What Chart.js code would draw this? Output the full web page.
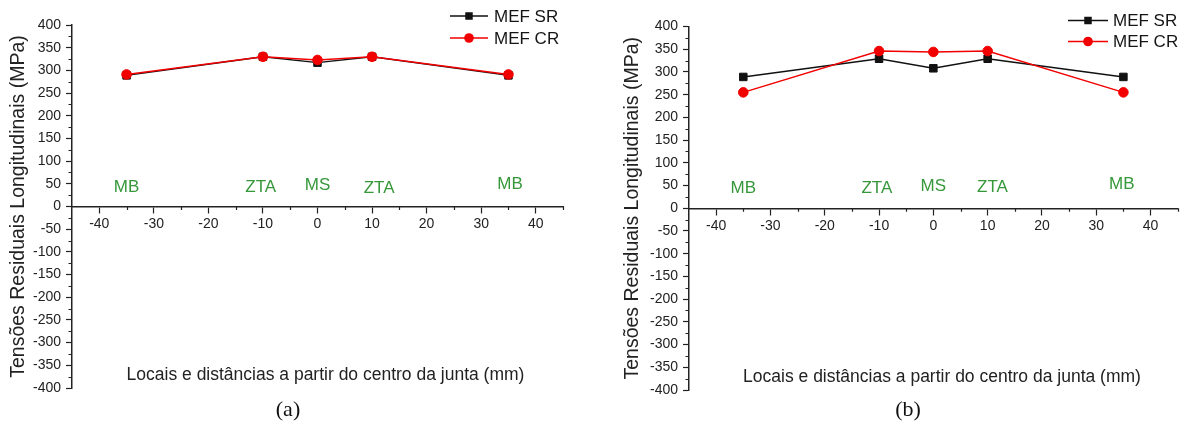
<!DOCTYPE html>
<html>
<head>
<meta charset="utf-8">
<script src="https://cdn.jsdelivr.net/npm/chart.js@4.4.0/dist/chart.umd.min.js"></script>
<style>
  html, body { margin: 0; padding: 0; background: #fff; }
  #wrap { position: relative; width: 1184px; height: 431px; overflow: hidden; background: #fff; }
  #ca { position: absolute; left: 0; top: 0; }
  #cb { position: absolute; left: 616px; top: 0; }
</style>
</head>
<body>
<div id="wrap">
  <canvas id="ca" width="600" height="431"></canvas>
  <canvas id="cb" width="568" height="431"></canvas>
</div>
<script>
// Distance from the joint centre (mm) of each measuring location
const positions = [-35, -10, 0, 10, 35];

// Longitudinal residual stress (MPa), panel (a)
const mefSrA = [289, 330, 317, 330, 289];
const mefCrA = [291, 330, 323, 330, 291];

// Longitudinal residual stress (MPa), panel (b)
const mefSrB = [289, 329, 308, 329, 289];
const mefCrB = [255, 346, 344, 346, 255];

// Axis tick labels
const xTickValues = [-40, -30, -20, -10, 0, 10, 20, 30, 40];
const yTickValues = [-400, -350, -300, -250, -200, -150, -100, -50, 0,
                     50, 100, 150, 200, 250, 300, 350, 400];

// Weld zones written above the axis
const zoneNames = ['MB', 'ZTA', 'MS', 'ZTA', 'MB'];
const zoneAtA = [-35, -10.4, 0, 11.3, 35.3];
const zoneAtB = [-35, -10.4, 0, 10.9, 34.7];
const zoneLevelA = [43, 42, 47, 41, 50];
const zoneLevelB = [44, 44, 49, 46, 52];

const seriesNames = ['MEF SR', 'MEF CR'];
const xTitle = 'Locais e distâncias a partir do centro da junta (mm)';
const yTitle = 'Tensões Residuais Longitudinais (MPa)';

const SANS = "'Liberation Sans', Arial, Helvetica, sans-serif";
const SERIF = "'Liberation Serif', 'Times New Roman', serif";
const INK = '#222222';
const RED = '#f20000';
const BLACK = '#111111';
const GREEN = '#36983a';

function markerPath(ctx, style, x, y, r) {
  ctx.beginPath();
  if (style === 'rect') {
    const s = r * Math.SQRT1_2;
    ctx.rect(x - s, y - s, 2 * s, 2 * s);
  } else {
    ctx.arc(x, y, r, 0, Math.PI * 2);
  }
}

// Minor ticks, zone names, key, x-axis title and panel letter
const panelDecor = {
  id: 'panelDecor',
  afterDraw(chart, args, o) {
    const ctx = chart.ctx;
    const xs = chart.scales.x, ys = chart.scales.y;
    const y0 = ys.getPixelForValue(0);
    const left = chart.chartArea.left;
    ctx.save();
    // minor ticks
    ctx.strokeStyle = INK;
    ctx.lineWidth = 1.2;
    ctx.beginPath();
    for (let v = -45; v <= 45; v += 5) {
      if (v % 10 === 0 || v === -45) continue;
      const px = Math.round(xs.getPixelForValue(v)) + 0.5;
      ctx.moveTo(px, y0); ctx.lineTo(px, y0 + 3.5);
    }
    for (let v = -375; v <= 375; v += 50) {
      const py = Math.round(ys.getPixelForValue(v)) + 0.5;
      ctx.moveTo(left, py); ctx.lineTo(left - 3.5, py);
    }
    ctx.stroke();

    // weld zone names
    ctx.fillStyle = GREEN;
    ctx.font = '17px ' + SANS;
    ctx.textAlign = 'center';
    ctx.textBaseline = 'middle';
    zoneNames.forEach((n, i) => {
      ctx.fillText(n, xs.getPixelForValue(o.zoneAt[i]), ys.getPixelForValue(o.zoneLevel[i]));
    });

    // key
    ctx.font = '17px ' + SANS;
    ctx.textAlign = 'left';
    chart.data.datasets.forEach((ds, i) => {
      const ry = o.keyRows[i];
      ctx.strokeStyle = ds.borderColor;
      ctx.lineWidth = 1.4;
      ctx.beginPath();
      ctx.moveTo(o.keyLine[0], ry); ctx.lineTo(o.keyLine[1], ry);
      ctx.stroke();
      ctx.fillStyle = ds.pointBackgroundColor;
      markerPath(ctx, ds.pointStyle, (o.keyLine[0] + o.keyLine[1]) / 2, ry, ds.pointRadius);
      ctx.fill();
      ctx.fillStyle = '#151515';
      ctx.fillText(ds.label, o.keyText, ry + 1);
    });

    // x-axis title
    ctx.fillStyle = INK;
    ctx.font = '17.5px ' + SANS;
    ctx.textAlign = 'center';
    ctx.fillText(xTitle, o.xTitleAt[0], o.xTitleAt[1]);

    // panel letter
    ctx.fillStyle = '#111';
    ctx.font = '22px ' + SERIF;
    ctx.fillText(o.letter, o.letterAt[0], o.letterAt[1]);
    ctx.restore();
  }
};

function makeChart(id, sr, cr, decor, area) {
  const toPts = arr => positions.map((x, i) => ({ x: x, y: arr[i] }));
  return new Chart(document.getElementById(id), {
    type: 'line',
    data: {
      datasets: [
        { label: seriesNames[0], data: toPts(sr), borderColor: BLACK, backgroundColor: BLACK,
          pointBackgroundColor: BLACK, pointBorderColor: BLACK, pointStyle: 'rect',
          pointRadius: 5.3, pointBorderWidth: 1, borderWidth: 1.4, tension: 0, order: 1 },
        { label: seriesNames[1], data: toPts(cr), borderColor: RED, backgroundColor: RED,
          pointBackgroundColor: RED, pointBorderColor: RED, pointStyle: 'circle',
          pointRadius: 4.8, pointBorderWidth: 1, borderWidth: 1.4, tension: 0, order: 0 }
      ]
    },
    options: {
      responsive: false,
      animation: false,
      devicePixelRatio: 1,
      layout: { padding: area.padding },
      plugins: { legend: { display: false }, tooltip: { enabled: false }, panelDecor: decor },
      scales: {
        x: {
          type: 'linear', min: -45, max: 45, position: { y: 0 },
          afterBuildTicks: s => { s.ticks = xTickValues.map(v => ({ value: v })); },
          ticks: { color: INK, font: { family: SANS, size: 14 }, padding: 3, maxRotation: 0,
                   callback: v => String(v) },
          grid: { drawOnChartArea: false, drawTicks: true, tickLength: 6, tickColor: INK, tickWidth: 1.2 },
          border: { display: true, color: INK, width: 1.5 }
        },
        y: {
          type: 'linear', min: -400, max: 400, position: 'left',
          afterBuildTicks: s => { s.ticks = yTickValues.map(v => ({ value: v })); },
          afterFit: s => { s.width = area.axisWidth; },
          ticks: { color: INK, font: { family: SANS, size: 14 }, padding: 5,
                   callback: v => String(v) },
          grid: { drawOnChartArea: false, drawTicks: true, tickLength: 6, tickColor: INK, tickWidth: 1.2 },
          border: { display: true, color: INK, width: 1.5 },
          title: { display: true, text: yTitle, color: INK, font: { family: SANS, size: 19.5 },
                   padding: { top: area.titlePad, bottom: 0 } }
        }
      }
    },
    plugins: [panelDecor]
  });
}

makeChart('ca', mefSrA, mefCrA,
  { zoneAt: zoneAtA, zoneLevel: zoneLevelA, keyLine: [450, 488], keyText: 494, keyRows: [16, 38],
    xTitleAt: [325.5, 375], letter: '(a)', letterAt: [288, 410] },
  { padding: { left: 0, top: 25, right: 37, bottom: 43 }, axisWidth: 72, titlePad: 7 });

makeChart('cb', mefSrB, mefCrB,
  { zoneAt: zoneAtB, zoneLevel: zoneLevelB, keyLine: [452, 492], keyText: 497, keyRows: [20.5, 41.5],
    xTitleAt: [326, 377], letter: '(b)', letterAt: [292, 410] },
  { padding: { left: 0, top: 26.5, right: 2, bottom: 41 }, axisWidth: 73, titlePad: 5 });
</script>
</body>
</html>
